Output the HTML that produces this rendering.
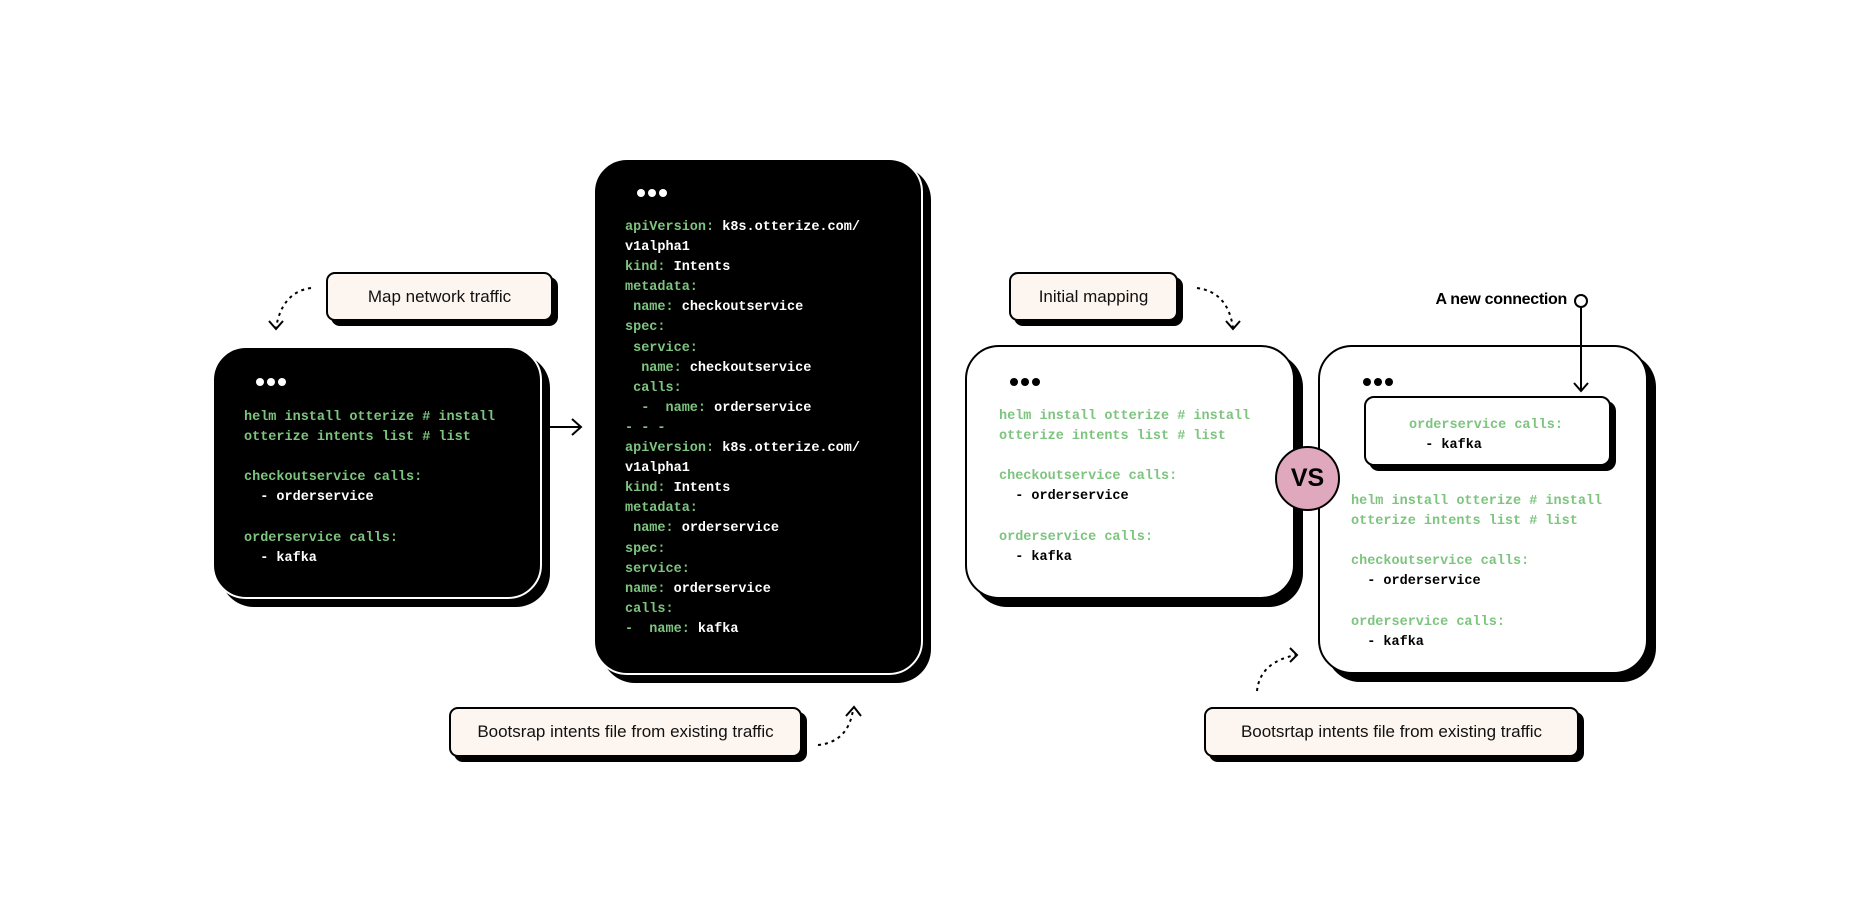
<!DOCTYPE html>
<html><head><meta charset="utf-8"><style>
*{margin:0;padding:0;box-sizing:border-box}
body{width:1860px;height:915px;background:#fff;position:relative;overflow:hidden;font-family:"Liberation Sans",sans-serif}
.a{position:absolute}
.lbl{position:absolute;background:#fdf5ef;border:2px solid #000;border-radius:9px;box-shadow:5px 5px 0 #000;font-size:17px;display:flex;align-items:center;justify-content:center;color:#111}
.blk{position:absolute;background:#000;border:2px solid #fff;border-radius:34px;box-shadow:8px 8px 0 #000}
.wht{position:absolute;background:#fff;border:2px solid #000;border-radius:34px;box-shadow:8px 8px 0 #000}
.code{position:absolute;font-family:"Liberation Mono",monospace;font-weight:bold;font-size:13.5px;line-height:20.1px;white-space:pre}
.g{color:#7dc47f}.w{color:#fff}.k{color:#000}
.dot{display:inline-block;width:8px;height:8px;border-radius:50%;margin-right:3px}
</style></head><body>

<div class="lbl" style="left:326px;top:272px;width:227px;height:49px">Map network traffic</div>
<div class="blk" style="left:212px;top:346px;width:330px;height:253px"></div>
<div class="a" style="left:256px;top:373px"><span class="dot" style="background:#fff"></span><span class="dot" style="background:#fff"></span><span class="dot" style="background:#fff"></span></div>
<div class="code" style="left:244px;top:408px"><span class="g">helm install otterize # install
otterize intents list # list

checkoutservice calls:</span>
<span class="w">  - orderservice</span>

<span class="g">orderservice calls:</span>
<span class="w">  - kafka</span></div>

<div class="blk" style="left:593px;top:158px;width:330px;height:517px"></div>
<div class="a" style="left:637px;top:184px"><span class="dot" style="background:#fff"></span><span class="dot" style="background:#fff"></span><span class="dot" style="background:#fff"></span></div>
<div class="code" style="left:625px;top:218px"><span class="g">apiVersion: </span><span class="w">k8s.otterize.com/
v1alpha1</span>
<span class="g">kind: </span><span class="w">Intents</span>
<span class="g">metadata:
 name: </span><span class="w">checkoutservice</span>
<span class="g">spec:
 service:
  name: </span><span class="w">checkoutservice</span>
<span class="g"> calls:
  -  name: </span><span class="w">orderservice</span>
<span class="g">- - -
apiVersion: </span><span class="w">k8s.otterize.com/
v1alpha1</span>
<span class="g">kind: </span><span class="w">Intents</span>
<span class="g">metadata:
 name: </span><span class="w">orderservice</span>
<span class="g">spec:
service:
name: </span><span class="w">orderservice</span>
<span class="g">calls:
-  name: </span><span class="w">kafka</span></div>

<div class="lbl" style="left:449px;top:707px;width:353px;height:50px">Bootsrap intents file from existing traffic</div>

<div class="lbl" style="left:1009px;top:272px;width:169px;height:49px">Initial mapping</div>
<div class="wht" style="left:965px;top:345px;width:330px;height:254px"></div>
<div class="a" style="left:1010px;top:373px"><span class="dot" style="background:#000"></span><span class="dot" style="background:#000"></span><span class="dot" style="background:#000"></span></div>
<div class="code" style="left:999px;top:407px"><span class="g">helm install otterize # install
otterize intents list # list

checkoutservice calls:</span>
<span class="k">  - orderservice</span>

<span class="g">orderservice calls:</span>
<span class="k">  - kafka</span></div>

<div class="wht" style="left:1318px;top:345px;width:330px;height:329px"></div>
<div class="a" style="left:1363px;top:373px"><span class="dot" style="background:#000"></span><span class="dot" style="background:#000"></span><span class="dot" style="background:#000"></span></div>
<div class="a" style="left:1364px;top:396px;width:247px;height:70px;border:2px solid #000;border-radius:10px;background:#fff;box-shadow:5px 5px 0 #000"></div>
<div class="code" style="left:1409px;top:416px"><span class="g">orderservice calls:</span>
<span class="k">  - kafka</span></div>
<div class="code" style="left:1351px;top:492px"><span class="g">helm install otterize # install
otterize intents list # list

checkoutservice calls:</span>
<span class="k">  - orderservice</span>

<span class="g">orderservice calls:</span>
<span class="k">  - kafka</span></div>

<div class="a" style="left:1275px;top:446px;width:65px;height:65px;border-radius:50%;background:#e0a8bc;border:2px solid #000;display:flex;align-items:center;justify-content:center;font-weight:bold;font-size:25px">VS</div>

<div class="a" style="left:1400px;top:291px;width:167px;text-align:right;font-weight:bold;font-size:16px;letter-spacing:-0.3px">A new connection</div>
<div class="lbl" style="left:1204px;top:707px;width:375px;height:50px">Bootsrtap intents file from existing traffic</div>

<svg class="a" style="left:0;top:0" width="1860" height="915" fill="none" stroke="#000" stroke-width="2">
<path d="M311 288 Q282 292 276 328" stroke-dasharray="3 4"/>
<path d="M269 321 L276 329 L283 321"/>
<path d="M549 427 H580"/><path d="M572 419 L581 427 L572 435"/>
<path d="M818 745 Q848 742 853 710" stroke-dasharray="3 4"/>
<path d="M846 716 L854 707 L861 716"/>
<path d="M1197 288 Q1228 292 1233 328" stroke-dasharray="3 4"/>
<path d="M1226 321 L1233 329 L1240 321"/>
<path d="M1257 691 Q1260 662 1296 655" stroke-dasharray="3 4"/>
<path d="M1290 648 L1297 655 L1290 662"/>
<circle cx="1581" cy="301" r="6"/>
<path d="M1581 307 V390"/><path d="M1574 383 L1581 391 L1588 383"/>
</svg>
</body></html>
